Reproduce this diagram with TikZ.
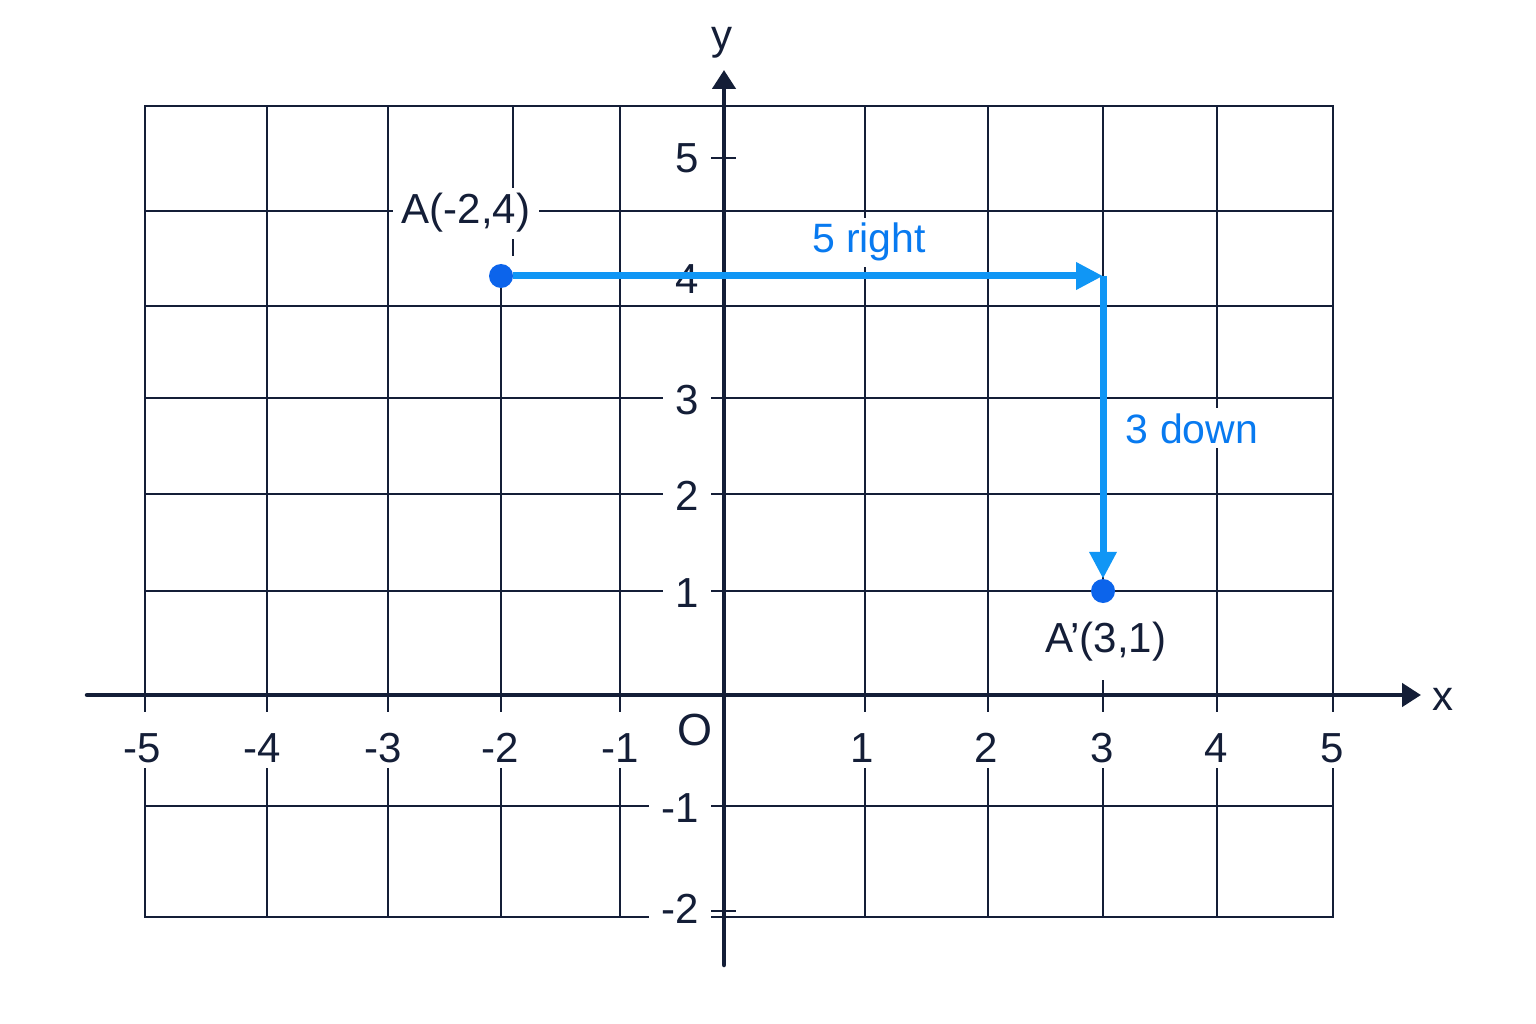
\documentclass[tikz,border=0pt]{standalone}
\usepackage{fontspec}
\setmainfont{Liberation Sans}
\usetikzlibrary{arrows.meta}
\definecolor{ink}{RGB}{20,30,55}
\definecolor{arrowblue}{RGB}{16,150,245}
\definecolor{dotblue}{RGB}{12,100,235}
\definecolor{textblue}{RGB}{8,122,240}
\begin{document}
\begin{tikzpicture}[x=1pt,y=-1pt,
  gridline/.style={draw=ink,line width=2pt,line cap=rect},
  tickmark/.style={draw=ink,line width=2pt},
  axisline/.style={draw=ink,line width=4.5pt,line cap=round,-{Triangle[length=19pt,width=23pt]}},
  xlbl/.style={text=ink,font=\fontsize{42}{50}\selectfont,fill=white,inner xsep=4pt,inner ysep=6pt,text height=44pt,text depth=0pt},
  ylbl/.style={text=ink,font=\fontsize{42}{50}\selectfont,fill=white,inner xsep=12pt,inner ysep=4pt,text height=30pt,text depth=0pt},
  axlbl/.style={text=ink,font=\fontsize{42}{50}\selectfont,inner sep=0pt},
  ptlbl/.style={text=ink,font=\fontsize{42}{50}\selectfont,fill=white,inner xsep=9pt,inner ysep=6pt},
  bluelbl/.style={text=textblue,font=\fontsize{41}{49}\selectfont,fill=white,inner xsep=6pt,inner ysep=5pt},
  move/.style={draw=arrowblue,line width=7pt,-{Triangle[length=27pt,width=26pt]}},
  dot/.style={circle,fill=dotblue,minimum size=24pt,inner sep=0pt}
]
\useasboundingbox (0,0) rectangle (1536,1024);
\fill[white] (0,0) rectangle (1536,1024);
% grid
\foreach \gx in {145,267,388,620,865,988,1103,1217,1333}
  \draw[gridline] (\gx,106) -- (\gx,917);
\draw[gridline] (513,106) -- (513,255);
\draw[gridline] (501,276) -- (501,917);
\foreach \gy in {106,211,306,398,494,591,806,917}
  \draw[gridline] (145,\gy) -- (1333,\gy);
% x labels
\foreach \lx/\t/\n in {142/-5/m5,262/-4/m4,383/-3/m3,500/-2/m2,620/-1/m1,862/1/p1,986/2/p2,1102/3/p3,1216/4/p4,1332/5/p5}
  \node[xlbl,anchor=base] (xl\n) at (\lx,762) {\t};
% y labels
\foreach \ly/\t/\n in {158/5/p5,279/4/p4,399/3/p3,495/2/p2,592/1/p1,807/-1/m1,908/-2/m2}
  \node[ylbl,anchor=east] (yl\n) at (711,\ly) {\t};
% y ticks
\foreach \ty in {158,277,398,494,591,806,911}
  \draw[tickmark] (711,\ty) -- (736,\ty);
% axes
\coordinate (xstart) at (87,695);
\coordinate (xend) at (1421,695);
\coordinate (ystart) at (724,965);
\coordinate (yend) at (724,70);
\draw[axisline] (xstart) -- (xend);
\draw[axisline] (ystart) -- (yend);
\node[axlbl,anchor=base] (xlabel) at (1443,710) {x};
\node[axlbl,anchor=base] (ylabel) at (722,50) {y};
\node[axlbl,font=\fontsize{45}{52}\selectfont] (origin) at (695,730) {O};
% points and labels
\node[ptlbl,anchor=base] (Alab) at (466,224) {A(-2,4)};
\node[ptlbl,anchor=base,text height=50pt,text depth=28pt,inner ysep=0pt] (Aplab) at (1106,652) {A'(3,1)};
\node[bluelbl,anchor=base] (rightlab) at (869,253) {5 right};
\node[bluelbl,anchor=base] (downlab) at (1192,443) {3 down};
\node[dot] (A) at (501,276) {};
\node[dot] (Ap) at (1103,591) {};
\coordinate (corner) at (1103,276);
\draw[move] (A) -- (corner);
\draw[move] (corner) -- (Ap);
\end{tikzpicture}
\end{document}
